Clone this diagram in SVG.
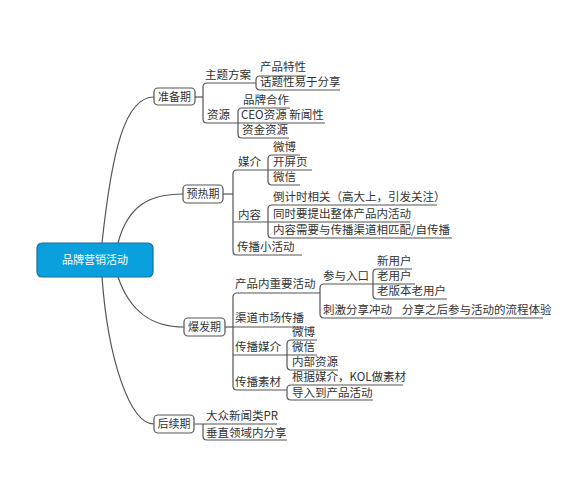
<svg xmlns="http://www.w3.org/2000/svg" width="565" height="497" viewBox="0 0 565 497">
<style>
.ln{fill:none;stroke:#555;stroke-width:1.2}
.box{fill:#fff;stroke:#555;stroke-width:1.2}
.t{font-family:"Noto Sans CJK SC","Liberation Serif",serif;font-size:11.5px;fill:#333}
.bt{font-family:"Noto Sans CJK SC","Liberation Serif",serif;font-size:11px;fill:#333;text-anchor:middle}
.rt{font-family:"Noto Sans CJK SC","Liberation Sans",sans-serif;font-size:11px;fill:#fff;text-anchor:middle}
</style>
<rect width="565" height="497" fill="#fff"/>
<g id="connectors">
<path class="ln" d="M102,243 C112,150 125,97 154,97"/>
<path class="ln" d="M118,243 C128,205 150,194 183,194"/>
<path class="ln" d="M118,277 C130,312 152,327 184,327"/>
<path class="ln" d="M102,277 C108,360 130,424 154,424"/>
<!-- 准备期 -->
<path class="ln" d="M195,97 H203"/>
<path class="ln" d="M256,83 H207 Q203,83 203,87 V119 Q203,123 207,123 H238"/>
<path class="ln" d="M306,76 H260 Q256,76 256,80 V86 Q256,90 260,90 H340"/>
<path class="ln" d="M290,108 H242 Q238,108 238,112 V134 Q238,138 242,138 H289"/>
<path class="ln" d="M238,123 H325"/>
<!-- 预热期 -->
<path class="ln" d="M223,194 H233"/>
<path class="ln" d="M268,170 H237 Q233,170 233,174 V251 Q233,255 237,255 H302"/>
<path class="ln" d="M300,155 H272 Q268,155 268,159 V181 Q268,185 272,185 H300"/>
<path class="ln" d="M268,170 H312"/>
<path class="ln" d="M437,205 H272 Q268,205 268,209 V234 Q268,238 272,238 H452"/>
<path class="ln" d="M233,222 H410"/>
<!-- 爆发期 -->
<path class="ln" d="M225,327 H233"/>
<path class="ln" d="M320,293 H237 Q233,293 233,297 V386 Q233,390 237,390 H287"/>
<path class="ln" d="M233,327 H304"/>
<path class="ln" d="M415,284 H324 Q320,284 320,288 V314 Q320,318 324,318 H543"/>
<path class="ln" d="M412,269 H377 Q373,269 373,273 V295 Q373,299 377,299 H447"/>
<path class="ln" d="M317,340 H291 Q287,340 287,344 V366 Q287,370 291,370 H338"/>
<path class="ln" d="M233,355 H317"/>
<path class="ln" d="M403,385 H291 Q287,385 287,389 V396 Q287,400 291,400 H373"/>
<!-- 后续期 -->
<path class="ln" d="M194,424 H277"/>
<path class="ln" d="M203,424 V436 Q203,440 207,440 H287"/>
</g>
<g id="root">
<rect x="37" y="243" width="116" height="34" rx="5" fill="#0aa0dd" stroke="#1a6d95" stroke-width="1.2"/>
<text class="rt" x="95" y="264">品牌营销活动</text>
</g>
<g id="n-zhunbei">
<rect class="box" x="154" y="88" width="41" height="17" rx="4"/>
<text class="bt" x="174.5" y="101">准备期</text>
</g>
<g id="n-zhuti"><text class="t" x="205" y="79">主题方案</text></g>
<g id="n-chanpintexing"><text class="t" x="260" y="71">产品特性</text></g>
<g id="n-huati"><text class="t" x="260" y="86">话题性易于分享</text></g>
<g id="n-ziyuan"><text class="t" x="207" y="119">资源</text></g>
<g id="n-pinpai"><text class="t" x="243" y="104">品牌合作</text></g>
<g id="n-ceo"><text class="t" x="241" y="119">CEO资源 新闻性</text></g>
<g id="n-zijin"><text class="t" x="242" y="134">资金资源</text></g>

<g id="n-yure">
<rect class="box" x="183" y="185" width="40" height="18" rx="4"/>
<text class="bt" x="203" y="198">预热期</text>
</g>
<g id="n-meijie"><text class="t" x="238" y="166">媒介</text></g>
<g id="n-weibo1"><text class="t" x="273" y="151">微博</text></g>
<g id="n-kaiping"><text class="t" x="273" y="166">开屏页</text></g>
<g id="n-weixin1"><text class="t" x="273" y="181">微信</text></g>
<g id="n-neirong"><text class="t" x="238" y="219">内容</text></g>
<g id="n-daojishi"><text class="t" x="273" y="201">倒计时相关（高大上，引发关注）</text></g>
<g id="n-tongshi"><text class="t" x="273" y="218">同时要提出整体产品内活动</text></g>
<g id="n-neirongxuyao"><text class="t" x="273" y="234">内容需要与传播渠道相匹配/自传播</text></g>
<g id="n-chuanboxiao"><text class="t" x="237" y="251">传播小活动</text></g>

<g id="n-baofa">
<rect class="box" x="184" y="318" width="41" height="18" rx="4"/>
<text class="bt" x="204.5" y="331">爆发期</text>
</g>
<g id="n-chanpinnei"><text class="t" x="235" y="288">产品内重要活动</text></g>
<g id="n-canyu"><text class="t" x="323" y="280">参与入口</text></g>
<g id="n-xinyonghu"><text class="t" x="377" y="265">新用户</text></g>
<g id="n-laoyonghu"><text class="t" x="377" y="280">老用户</text></g>
<g id="n-laobanben"><text class="t" x="377" y="295">老版本老用户</text></g>
<g id="n-ciji"><text class="t" x="323" y="314">刺激分享冲动</text></g>
<g id="n-fenxiang"><text class="t" x="402" y="314">分享之后参与活动的流程体验</text></g>
<g id="n-qudao"><text class="t" x="235" y="322">渠道市场传播</text></g>
<g id="n-chuanbomeijie"><text class="t" x="235" y="351">传播媒介</text></g>
<g id="n-weibo2"><text class="t" x="292" y="336">微博</text></g>
<g id="n-weixin2"><text class="t" x="292" y="351">微信</text></g>
<g id="n-neibu"><text class="t" x="292" y="366">内部资源</text></g>
<g id="n-sucai"><text class="t" x="235" y="386">传播素材</text></g>
<g id="n-genju"><text class="t" x="292" y="381">根据媒介，KOL做素材</text></g>
<g id="n-daoru"><text class="t" x="292" y="397">导入到产品活动</text></g>

<g id="n-houxu">
<rect class="box" x="154" y="415" width="40" height="18" rx="4"/>
<text class="bt" x="174" y="428">后续期</text>
</g>
<g id="n-dazhong"><text class="t" x="206" y="420">大众新闻类PR</text></g>
<g id="n-chuizhi"><text class="t" x="206" y="437">垂直领域内分享</text></g>
</svg>
